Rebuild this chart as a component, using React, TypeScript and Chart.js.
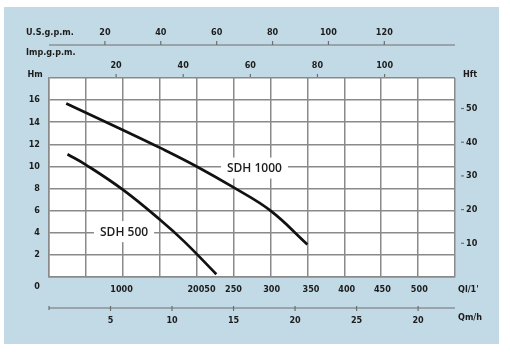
import React, { useEffect, useRef } from "react";
import { Chart, registerables } from "chart.js";

Chart.register(...registerables);

// ---- data (flow in m3/h, head in m) ----
const sdh1000Flow = [1.4, 6, 9, 12, 15, 18, 21];
const sdh1000Head = [15.7, 13.3, 11.7, 10.0, 8.1, 6.0, 2.95];
const sdh500Flow = [1.5, 3, 6, 9, 11, 13.6];
const sdh500Head = [11.1, 10.15, 7.9, 5.2, 3.2, 0.25];

const curveNames = ["SDH 1000", "SDH 500"];
const curveLabelFlow = [16.7, 6.1];
const curveLabelHead = [9.9, 4.15];

// ---- tick labels ----
const headTicksM = [2, 4, 6, 8, 10, 12, 14, 16];
const headTicksFt = [10, 20, 30, 40, 50];
const flowTicksM3h = [5, 10, 15, 20, 25, 30];
const flowTickLabelsM3h = ["5", "10", "15", "20", "25", "20"];
const usGpmTicks = [20, 40, 60, 80, 100, 120];
const impGpmTicks = [20, 40, 60, 80, 100];
const lminTickLabels = ["1000", "20050", "250", "300", "350", "400", "450", "500"];
const lminTickFlow = [5.9, 12.4, 15, 18.1, 21.3, 24.2, 27.1, 30.1];

const M_TO_FT = 3.28084;
const USGPM_TO_M3H = 0.227125;
const IMPGPM_TO_M3H = 0.272765;

const FLOW_MAX = 33;
const HEAD_MAX = 18;

const GRID = "#8a8a8a";
const TEXT = "#1c1c1c";
const PANEL = "#c2dae6";
const AXFONT = "bold 9px 'Liberation Sans Narrow', 'DejaVu Sans Condensed', sans-serif";

const decor = {
  id: "decor",
  beforeDraw(chart: any) {
    const { ctx, chartArea: a } = chart;
    ctx.save();
    ctx.fillStyle = "#ffffff";
    ctx.fillRect(0, 0, chart.width, chart.height);
    ctx.fillStyle = PANEL;
    ctx.fillRect(4, 7, 495, 337);
    ctx.fillStyle = "#ffffff";
    ctx.fillRect(a.left, a.top, a.right - a.left, a.bottom - a.top);
    ctx.restore();
  },
  beforeDatasetsDraw(chart: any) {
    const { ctx } = chart;
    const xs = chart.scales.x;
    const ys = chart.scales.y;
    ctx.save();
    ctx.font = "600 12px 'Open Sans', 'Liberation Sans', sans-serif";
    ctx.textAlign = "center";
    ctx.textBaseline = "middle";
    curveNames.forEach((name, i) => {
      const px = xs.getPixelForValue(curveLabelFlow[i]);
      const py = ys.getPixelForValue(curveLabelHead[i]);
      const w = ctx.measureText(name).width + 12;
      ctx.fillStyle = "#ffffff";
      ctx.fillRect(px - w / 2, py - 10, w, 21);
      ctx.fillStyle = TEXT;
      ctx.fillText(name, px, py + 1);
    });
    ctx.restore();
  },
  afterDraw(chart: any) {
    const { ctx, chartArea: a } = chart;
    const xs = chart.scales.x;
    const ys = chart.scales.y;
    const yft = chart.scales.yft;
    ctx.save();
    ctx.font = AXFONT;
    ctx.fillStyle = TEXT;
    ctx.strokeStyle = "#6e6e6e";
    ctx.lineWidth = 1.2;
    ctx.textBaseline = "middle";

    // left head (m)
    ctx.textAlign = "right";
    headTicksM.forEach((v) => ctx.fillText(String(v), 40, ys.getPixelForValue(v)));
    ctx.fillText("0", 40, a.bottom + 10);
    ctx.textAlign = "center";
    ctx.fillText("Hm", 35, a.top - 3);

    // right head (ft)
    ctx.textAlign = "left";
    headTicksFt.forEach((v) => {
      const py = yft.getPixelForValue(v);
      ctx.beginPath();
      ctx.moveTo(a.right + 6, py);
      ctx.lineTo(a.right + 9, py);
      ctx.stroke();
      ctx.fillText(String(v), a.right + 11, py);
    });
    ctx.fillText("Hft", a.right + 8, a.top - 3);

    // top U.S. g.p.m.
    ctx.beginPath();
    ctx.moveTo(a.left, 45);
    ctx.lineTo(a.right, 45);
    ctx.stroke();
    ctx.textAlign = "center";
    usGpmTicks.forEach((v) => {
      const px = xs.getPixelForValue(v * USGPM_TO_M3H);
      ctx.beginPath();
      ctx.moveTo(px, 41);
      ctx.lineTo(px, 45);
      ctx.stroke();
      ctx.fillText(String(v), px, 33);
    });
    ctx.textAlign = "left";
    ctx.fillText("U.S.g.p.m.", 26, 33);
    ctx.fillText("Imp.g.p.m.", 26, 53);

    // top Imp g.p.m.
    ctx.textAlign = "center";
    impGpmTicks.forEach((v) => {
      const px = xs.getPixelForValue(v * IMPGPM_TO_M3H);
      ctx.beginPath();
      ctx.moveTo(px, a.top - 4);
      ctx.lineTo(px, a.top - 1);
      ctx.stroke();
      ctx.fillText(String(v), px, 66);
    });

    // bottom l/min row
    lminTickLabels.forEach((t, i) => {
      ctx.fillText(t, xs.getPixelForValue(lminTickFlow[i]), a.bottom + 13);
    });
    ctx.textAlign = "left";
    ctx.fillText("Ql/1'", a.right + 3, a.bottom + 13);

    // bottom m3/h axis
    const ly = a.bottom + 31;
    ctx.beginPath();
    ctx.moveTo(a.left, ly);
    ctx.lineTo(a.right, ly);
    ctx.stroke();
    ctx.beginPath();
    ctx.moveTo(a.left, ly - 2);
    ctx.lineTo(a.left, ly + 2);
    ctx.stroke();
    ctx.textAlign = "center";
    flowTicksM3h.forEach((v, i) => {
      const px = xs.getPixelForValue(v);
      ctx.beginPath();
      ctx.moveTo(px, ly - 2);
      ctx.lineTo(px, ly + 3);
      ctx.stroke();
      ctx.fillText(flowTickLabelsM3h[i], px, ly + 13);
    });
    ctx.textAlign = "left";
    ctx.fillText("Qm/h", a.right + 3, ly + 10);
    ctx.restore();
  },
};

export default function App() {
  const ref = useRef<HTMLCanvasElement | null>(null);
  useEffect(() => {
    if (!ref.current) return;
    const toPts = (xs: number[], ys: number[]) => xs.map((x, i) => ({ x, y: ys[i] }));
    const chart = new Chart(ref.current, {
      type: "line",
      data: {
        datasets: [
          {
            label: curveNames[0],
            data: toPts(sdh1000Flow, sdh1000Head),
            borderColor: "#111111",
            borderWidth: 2.7,
            pointRadius: 0,
            tension: 0.4,
          },
          {
            label: curveNames[1],
            data: toPts(sdh500Flow, sdh500Head),
            borderColor: "#111111",
            borderWidth: 2.7,
            pointRadius: 0,
            tension: 0.4,
          },
        ],
      },
      options: {
        responsive: false,
        animation: false,
        devicePixelRatio: 1,
        layout: { padding: { left: 49, top: 78, right: 55, bottom: 79 } },
        plugins: { legend: { display: false }, tooltip: { enabled: false } },
        scales: {
          x: {
            type: "linear",
            min: 0,
            max: FLOW_MAX,
            ticks: { display: false, stepSize: 3 },
            grid: { color: GRID, lineWidth: 1.5, drawTicks: false },
            border: { color: GRID, width: 1.5 },
          },
          y: {
            type: "linear",
            min: 0,
            max: HEAD_MAX,
            ticks: { display: false, stepSize: 2 },
            grid: { color: GRID, lineWidth: 1.5, drawTicks: false },
            border: { color: GRID, width: 1.5 },
          },
          yft: {
            type: "linear",
            position: "right",
            display: false,
            min: 0,
            max: HEAD_MAX * M_TO_FT,
          },
        },
      },
      plugins: [decor],
    });
    return () => chart.destroy();
  }, []);
  return (
    <div style={{ position: "absolute", left: 0, top: 0, width: 510, height: 356 }}>
      <canvas ref={ref} width={510} height={356} />
    </div>
  );
}
